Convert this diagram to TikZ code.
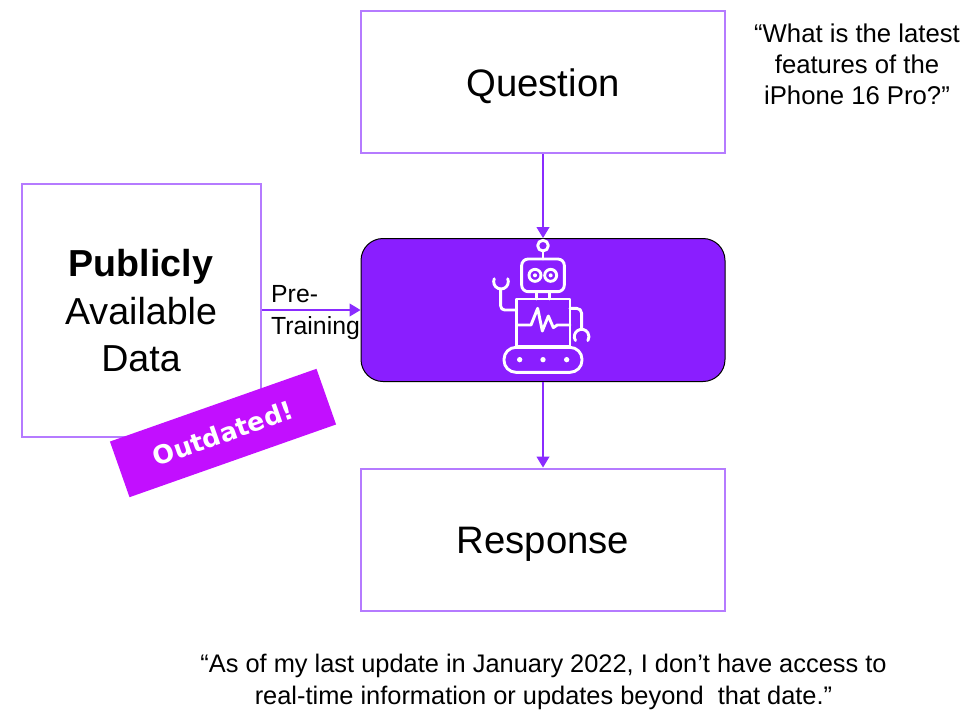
\documentclass[tikz,border=0pt]{standalone}
\usepackage{fontspec}
\setmainfont{Liberation Sans}
\newfontfamily\tagfont{DejaVu Sans}
\usetikzlibrary{arrows.meta}
\tikzset{
  x=1pt,y=-1pt,
  boxnode/.style={draw=boxline,line width=2pt,fill=white,inner sep=0pt,align=center},
  flow/.style={draw=arrowcol,line width=1.1pt,-{Triangle[length=11pt,width=13pt]}},
  bot/.style={draw=white,line width=2.9pt,line join=round,line cap=round},
  quote/.style={align=center,inner sep=0pt},
  big/.style={font=\fontsize{38.3}{48}\selectfont,text height=28pt,text depth=0pt}
}
\definecolor{boxline}{HTML}{B57BFF}
\definecolor{arrowcol}{HTML}{8A2BFF}
\definecolor{corecol}{HTML}{8A1EFF}
\definecolor{tagcol}{HTML}{C20FFF}
\begin{document}
\begin{tikzpicture}
\useasboundingbox (0,0) rectangle (976,710);
\node[boxnode,minimum width=364pt,minimum height=142pt,big] (q) at (543,82) {Question};
\node[boxnode,minimum width=364pt,minimum height=142pt,big] (r) at (543,539.5) {Response};
\node[boxnode,minimum width=239pt,minimum height=253pt] (d) at (141,310) {};
\node[align=center,inner sep=0pt,font=\fontsize{37.6}{47.5}\selectfont] (dt) at (141,311) {\textbf{Publicly}\\Available\\Data};
\node[draw=black,line width=1pt,fill=corecol,rounded corners=22pt,minimum width=364pt,minimum height=143pt,inner sep=0pt] (c) at (543,310) {};
\draw[flow] (q) -- (c);
\draw[flow] (c) -- (r);
\draw[flow] (d.east) -- (c.west);
\node[anchor=west,align=left,inner sep=0pt,font=\fontsize{24.8}{32}\selectfont] (pre) at (271,312.5) {Pre-\\Training};
\node[fill=tagcol,rotate=19.4,minimum width=219pt,minimum height=59pt,inner sep=0pt,text=white,font=\tagfont\fontsize{25.5}{30}\selectfont\bfseries] (tag) at (223,433) {Outdated!};
\node[quote,font=\fontsize{25.7}{31}\selectfont] (q1) at (857,64) {“What is the latest\\features of the\\iPhone 16 Pro?”};
\node[quote,font=\fontsize{25.4}{32}\selectfont] (q2) at (543.5,681.5) {“As of my last update in January 2022, I don’t have access to\\real-time information or updates beyond\ \ that date.”};
\begin{scope}[shift={(470,230)},x=0.3333pt,y=-0.3333pt]
\draw[bot] (219,47) circle[radius=16];
\draw[bot] (219,63) -- (219,87);
\draw[bot,rounded corners=6.5pt] (155,87) rectangle (283,185);
\draw[bot] (195,136) circle[radius=18] (242,136) circle[radius=18];
\fill[white] (195,136) circle[radius=6] (242,136) circle[radius=6];
\draw[bot] (200,185) -- (200,207) (238,185) -- (238,207);
\draw[bot] (140,207) rectangle (300,350);
\draw[bot] (140,285) -- (183,285) -- (203,235) -- (217,303) -- (235,258) -- (250,293) -- (262,285) -- (300,285);
\draw[bot,rounded corners=4pt] (140,240) -- (92,240) -- (92,177);
\draw[bot] (93,155) ++(203:22) arc[start angle=203,end angle=-23,radius=22];
\draw[bot,rounded corners=5pt] (300,235) -- (335,235) -- (335,298);
\draw[bot] (335,320) ++(148:22) arc[start angle=148,end angle=392,radius=22];
\draw[bot,rounded corners=12pt] (102,352) rectangle (336,427);
\fill[white] (149,389) circle[radius=8] (219,389) circle[radius=8] (290,389) circle[radius=8];
\end{scope}
\end{tikzpicture}
\end{document}
